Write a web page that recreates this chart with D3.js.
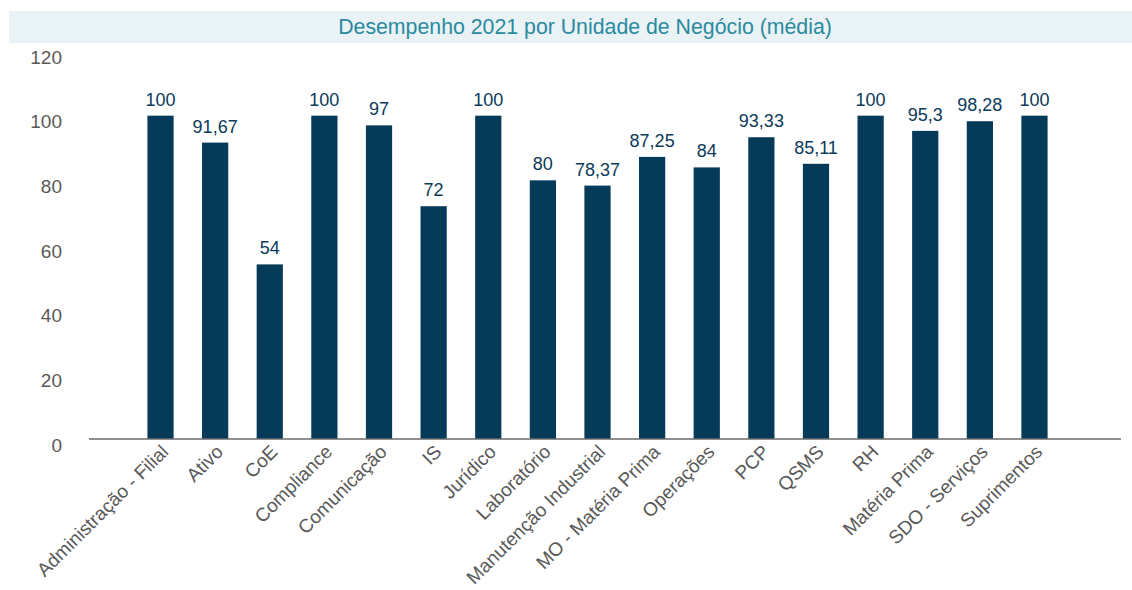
<!DOCTYPE html>
<html>
<head>
<meta charset="utf-8">
<script src="https://cdn.jsdelivr.net/npm/d3@7/dist/d3.min.js"></script>
<style>
  html, body { margin: 0; padding: 0; background: #ffffff; }
  svg { display: block; font-family: "Liberation Sans", Arial, sans-serif; }
</style>
</head>
<body>
<svg id="chart" width="1132" height="590"></svg>
<script>
// Business units and their average 2021 performance
const categories = [
  "Administração - Filial", "Ativo", "CoE", "Compliance", "Comunicação", "IS",
  "Jurídico", "Laboratório", "Manutenção Industrial", "MO - Matéria Prima",
  "Operações", "PCP", "QSMS", "RH", "Matéria Prima", "SDO - Serviços", "Suprimentos"
];
const values = [100, 91.67, 54, 100, 97, 72, 100, 80, 78.37, 87.25, 84, 93.33, 85.11, 100, 95.3, 98.28, 100];
const yTicks = [0, 20, 40, 60, 80, 100, 120];
const title = "Desempenho 2021 por Unidade de Negócio (média)";

const svg = d3.select("#chart");
const W = 1132, H = 590;

// Title banner
svg.append("rect")
  .attr("x", 9).attr("y", 11).attr("width", W - 9).attr("height", 32)
  .attr("fill", "#e9f2f5");
svg.append("text")
  .attr("x", 585).attr("y", 27)
  .attr("dy", "0.35em")
  .attr("text-anchor", "middle")
  .attr("font-size", 21.3)
  .attr("fill", "#2b8aa0")
  .text(title);

// Scales
const x = d3.scaleBand()
  .domain(categories)
  .range([133.2, 1061.8])
  .paddingInner(0.52)
  .paddingOuter(0.26);

const y = d3.scaleLinear().domain([0, 120]).range([439, 51]);

// Y axis tick labels (no axis line)
const yAxis = d3.axisLeft(y).tickValues(yTicks).tickSize(0).tickPadding(0);
const gy = svg.append("g").attr("transform", "translate(62,6)").call(yAxis);
gy.select(".domain").remove();
gy.selectAll("text")
  .attr("font-family", "Liberation Sans, Arial, sans-serif")
  .attr("font-size", 19)
  .attr("fill", "#595959");

// Bars
svg.append("g").selectAll("rect")
  .data(values)
  .join("rect")
  .attr("x", (d, i) => x(categories[i]))
  .attr("y", d => y(d))
  .attr("width", x.bandwidth())
  .attr("height", d => y(0) - y(d))
  .attr("fill", "#053a59");

// Value labels
const fmt = d => String(d).replace(".", ",");
svg.append("g").selectAll("text")
  .data(values)
  .join("text")
  .attr("x", (d, i) => x(categories[i]) + x.bandwidth() / 2)
  .attr("y", d => y(d) - 10)
  .attr("text-anchor", "middle")
  .attr("font-size", 18)
  .attr("fill", "#0b3a5a")
  .text(fmt);

// Baseline
svg.append("line")
  .attr("x1", 89).attr("x2", 1121)
  .attr("y1", y(0)).attr("y2", y(0))
  .attr("stroke", "#6b6b6b").attr("stroke-width", 1.5);

// Category labels, rotated
const xAxis = d3.axisBottom(x).tickSize(0).tickPadding(0);
const gx = svg.append("g").attr("transform", `translate(0,${y(0)})`).call(xAxis);
gx.select(".domain").remove();
gx.selectAll("text")
  .attr("font-family", "Liberation Sans, Arial, sans-serif")
  .attr("font-size", 19)
  .attr("fill", "#595959")
  .attr("text-anchor", "end")
  .attr("dy", null)
  .attr("y", 0)
  .attr("transform", "translate(9,14) rotate(-45)");
</script>
</body>
</html>
